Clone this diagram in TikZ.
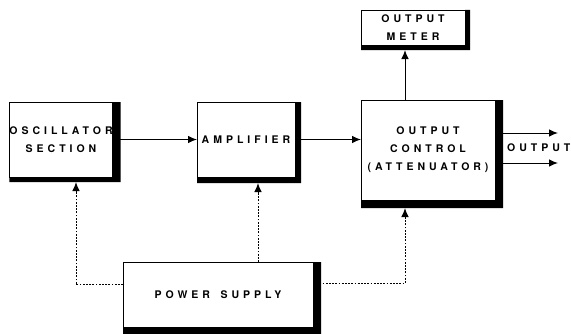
\documentclass[tikz,border=0pt]{standalone}
\usepackage{fontspec}
\newfontfamily\blockfont[LetterSpace=38]{TeX Gyre Heros}
\usetikzlibrary{arrows.meta}

\begin{document}
\begin{tikzpicture}[x=1pt,y=1pt,>={Latex[length=9pt,width=7.5pt]},
  font=\blockfont\bfseries\fontsize{10.5}{18}\selectfont,
  blk/.style={draw,line width=0.8pt,fill=white,inner sep=0pt,outer sep=0pt,align=center},
  sig/.style={->,line width=1pt},
  power/.style={->,line width=1pt,dash pattern=on 1.8pt off 1.4pt}]
  \useasboundingbox (0,0) rectangle (571,333);
  \node[blk,minimum width=98,minimum height=75] (osc) at (61,193.5) {OSCILLATOR\\SECTION};
  \node[blk,minimum width=98,minimum height=75] (amp) at (246,193.5) {AMPLIFIER};
  \node[blk,minimum width=134,minimum height=100] (ctl) at (428,183) {OUTPUT\\CONTROL\\(ATTENUATOR)};
  \node[blk,minimum width=104,minimum height=35] (meter) at (413,305.5) {OUTPUT\\METER};
  \node[blk,minimum width=190,minimum height=65] (psu) at (218,38.5) {POWER\hspace{1em}SUPPLY};
  \node[anchor=west,inner sep=0pt] (outlbl) at (507,185) {OUTPUT};
  % heavy edges on the right and bottom of each block
  \foreach \n/\dx/\dy in {osc/8/5,amp/6/6,ctl/8/8,meter/5/5,psu/8/8}
    \fill (\n.north east) -- ++(\dx,0) |- ([yshift=-\dy]\n.south west) -- (\n.south west) -- (\n.south east) -- cycle;
  \draw[sig] (osc.east) -- (amp.west);
  \draw[sig] (amp.east) -- (amp.east -| ctl.west);
  \draw[sig,shorten >=5pt] ([xshift=-23pt]ctl.north) -- ([xshift=-23pt]ctl.north |- meter.south);
  \draw[sig] ([yshift=17pt]ctl.east) -- ++(63,0);
  \draw[sig] ([yshift=-13pt]ctl.east) -- ++(63,0);
  \draw[power,shorten >=5pt] ([yshift=10pt]psu.west) -| ([xshift=15pt]osc.south);
  \draw[power,shorten >=6pt] ([xshift=12pt]amp.south |- psu.north) -- ([xshift=12pt]amp.south);
  \draw[power,shorten >=8pt] ([yshift=11pt]psu.east) -| ([xshift=-23pt]ctl.south);
\end{tikzpicture}
\end{document}
